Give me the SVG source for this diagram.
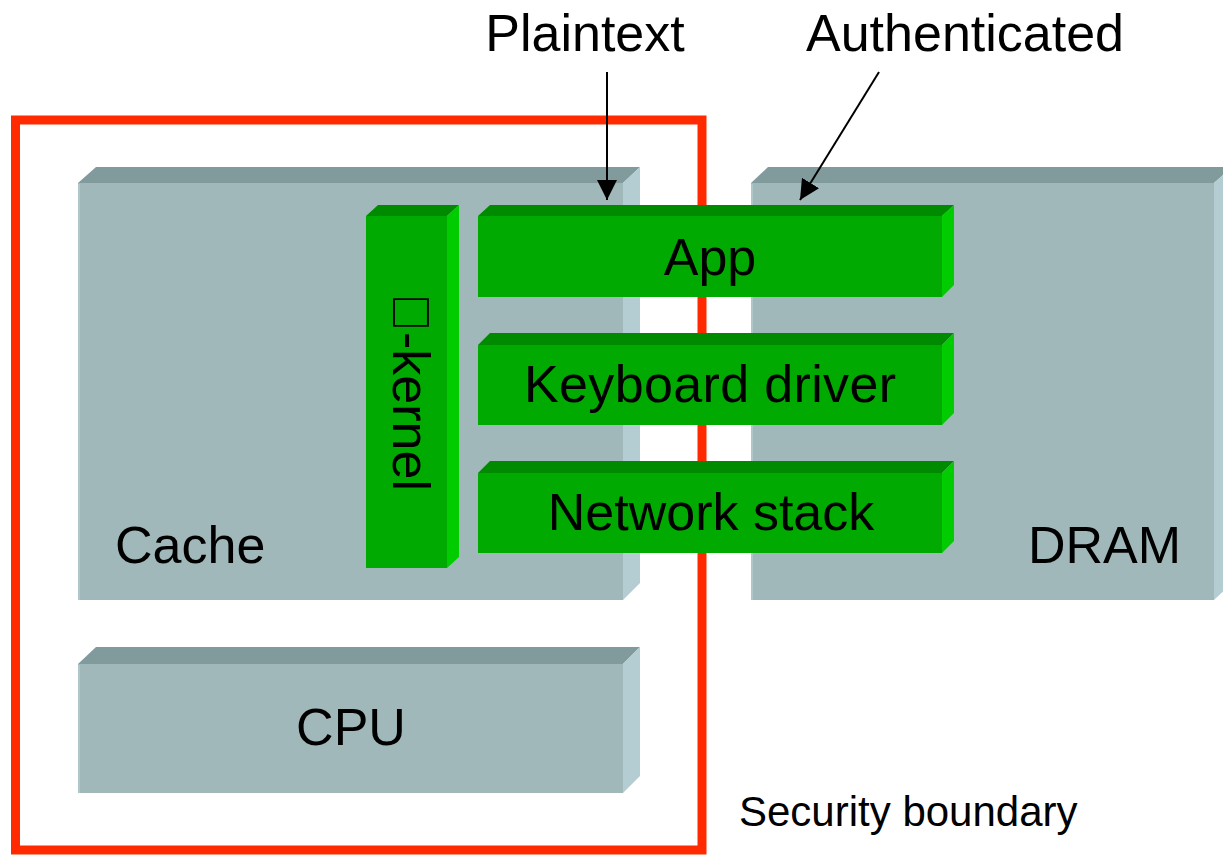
<svg xmlns="http://www.w3.org/2000/svg" width="1223" height="855" viewBox="0 0 1223 855">
  <style>
    text { font-family: "Liberation Sans", Arial, sans-serif; fill: #000; }
    .big { font-size: 52px; }
    .small { font-size: 42px; }
    .gfront { fill: #A0B8B9; }
    .gtop { fill: #819A9B; }
    .gside { fill: #B3CDD2; }
    .front { fill: #00AA00; }
    .top { fill: #008A00; }
    .side { fill: #00CC00; }
    .edge { stroke: #AFC7C8; stroke-width: 2; }
    .conn { stroke: #000; stroke-width: 2; fill: none; }
  </style>
  <defs>
    <marker id="arrow" viewBox="0 0 20 20" refX="20" refY="10" markerWidth="20" markerHeight="20" markerUnits="userSpaceOnUse" orient="auto">
      <path d="M0,0 L20,10 L0,20 Z" fill="#000"/>
    </marker>
  </defs>
  <rect width="1223" height="855" fill="#fff"/>

  <!-- Cache block -->
  <g id="cache">
    <polygon class="gtop" points="78,183 96,167 640,167 623,183"/>
    <polygon class="gside" points="623,183 640,167 640,583 623,600"/>
    <rect class="gfront" x="78" y="183" width="545" height="417"/>
    <line class="edge" x1="79" y1="184" x2="79" y2="600"/>
    <text class="big" x="115" y="563">Cache</text>
  </g>

  <!-- DRAM block -->
  <g id="dram">
    <polygon class="gtop" points="751,183 768,167 1232,167 1214,183"/>
    <polygon class="gside" points="1214,183 1232,167 1232,583 1214,600"/>
    <rect class="gfront" x="751" y="183" width="463" height="417"/>
    <line class="edge" x1="752" y1="184" x2="752" y2="600"/>
    <text class="big" x="1028" y="563">DRAM</text>
  </g>

  <!-- CPU block -->
  <g id="cpu">
    <polygon class="gtop" points="78,664 96,647 640,647 623,664"/>
    <polygon class="gside" points="623,664 640,647 640,776 623,793"/>
    <rect class="gfront" x="78" y="664" width="545" height="129"/>
    <line class="edge" x1="79" y1="665" x2="79" y2="793"/>
    <text class="big" x="351" y="745" text-anchor="middle">CPU</text>
  </g>

  <!-- Security boundary -->
  <g id="boundary">
    <rect x="15.5" y="120" width="686.5" height="730" fill="none" stroke="#FF2A00" stroke-width="9"/>
    <text class="small" x="739" y="826">Security boundary</text>
  </g>

  <!-- micro-kernel -->
  <g id="kernel">
    <polygon class="top" points="366,216 378,205 459,205 447,216"/>
    <polygon class="side" points="447,216 459,205 459,557 447,568"/>
    <rect class="front" x="366" y="216" width="81" height="352"/>
    <text class="big" x="0" y="0" text-anchor="middle" transform="translate(393,392) rotate(90)">&#xF06D;-kernel</text>
  </g>

  <!-- App -->
  <g id="app">
    <polygon class="top" points="478,216 490,205 954,205 942,216"/>
    <polygon class="side" points="942,216 954,205 954,285 942,297"/>
    <rect class="front" x="478" y="216" width="464" height="81"/>
    <text class="big" x="710" y="275" text-anchor="middle">App</text>
  </g>

  <!-- Keyboard driver -->
  <g id="keyboard">
    <polygon class="top" points="478,345 490,333 954,333 942,345"/>
    <polygon class="side" points="942,345 954,333 954,413 942,425"/>
    <rect class="front" x="478" y="345" width="464" height="80"/>
    <text class="big" x="710" y="402" text-anchor="middle" textLength="372" lengthAdjust="spacing">Keyboard driver</text>
  </g>

  <!-- Network stack -->
  <g id="network">
    <polygon class="top" points="478,473 490,461 954,461 942,473"/>
    <polygon class="side" points="942,473 954,461 954,541 942,553"/>
    <rect class="front" x="478" y="473" width="464" height="80"/>
    <text class="big" x="711" y="530" text-anchor="middle">Network stack</text>
  </g>

  <!-- Labels -->
  <g id="plaintext">
    <text class="big" x="585" y="51" text-anchor="middle">Plaintext</text>
  </g>
  <g id="authenticated">
    <text class="big" x="965" y="51" text-anchor="middle">Authenticated</text>
  </g>

  <!-- Connectors -->
  <g id="connectors">
    <line class="conn" x1="607" y1="72" x2="607" y2="200" marker-end="url(#arrow)"/>
    <line class="conn" x1="879" y1="72" x2="800" y2="200" marker-end="url(#arrow)"/>
  </g>
</svg>
